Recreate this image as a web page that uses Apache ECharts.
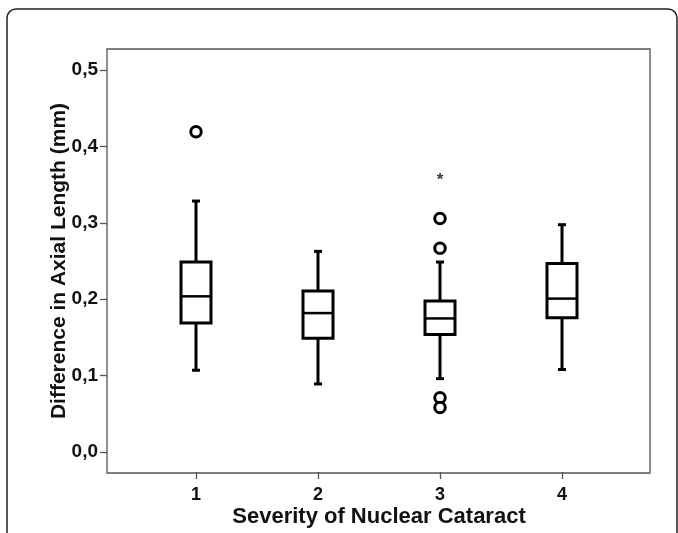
<!DOCTYPE html>
<html>
<head>
<meta charset="utf-8">
<script src="https://cdn.jsdelivr.net/npm/echarts@6/dist/echarts.min.js"></script>
<style>
  html, body { margin: 0; padding: 0; background: #fff; }
  #main { width: 678px; height: 533px; }
</style>
</head>
<body>
<div id="main"></div>
<script>
// 分组（白内障严重程度）
var categories = ['1', '2', '3', '4'];
// 箱线图各统计量，按分组顺序
var whiskerLow  = [0.106, 0.088, 0.095, 0.107];
var quartile1   = [0.168, 0.148, 0.153, 0.175];
var medians     = [0.203, 0.181, 0.174, 0.200];
var quartile3   = [0.248, 0.210, 0.197, 0.246];
var whiskerHigh = [0.328, 0.262, 0.248, 0.297];
// 离群值 [分组序号, 数值]
var outliers = [[0, 0.419], [2, 0.305], [2, 0.266], [2, 0.070], [2, 0.057]];
// 极端值（星号）
var extremes = [[2, 0.360]];
// 纵轴刻度
var yTickValues = [0, 0.1, 0.2, 0.3, 0.4, 0.5];
var yTickLabels = ['0,0', '0,1', '0,2', '0,3', '0,4', '0,5'];
// 纵轴范围（外框上下留白）
var yMin = -0.0275, yMax = 0.5275;

var FONT = '"Liberation Sans", Arial, sans-serif';
var INK = '#111';
var FRAME = '#555';

var boxData = [];
for (var i = 0; i < categories.length; i++) {
    boxData.push([i, whiskerLow[i], quartile1[i], medians[i], quartile3[i], whiskerHigh[i]]);
}

//画箱体：须线、端帽、箱子、中位线
function renderBox(params, api) {
    var x = api.value(0);
    var lo = api.coord([x, api.value(1)]);
    var q1 = api.coord([x, api.value(2)]);
    var md = api.coord([x, api.value(3)]);
    var q3 = api.coord([x, api.value(4)]);
    var hi = api.coord([x, api.value(5)]);
    var cx = lo[0], hw = 15, cw = 4;
    var thick = { stroke: '#000', lineWidth: 3 };
    return {
        type: 'group',
        children: [
            { type: 'line', shape: { x1: cx, y1: hi[1], x2: cx, y2: q3[1] }, style: thick },
            { type: 'line', shape: { x1: cx, y1: q1[1], x2: cx, y2: lo[1] }, style: thick },
            { type: 'line', shape: { x1: cx - cw, y1: hi[1], x2: cx + cw, y2: hi[1] }, style: thick },
            { type: 'line', shape: { x1: cx - cw, y1: lo[1], x2: cx + cw, y2: lo[1] }, style: thick },
            { type: 'rect', shape: { x: cx - hw, y: q3[1], width: hw * 2, height: q1[1] - q3[1] },
              style: { fill: '#fff', stroke: '#000', lineWidth: 3 } },
            { type: 'line', shape: { x1: cx - hw, y1: md[1], x2: cx + hw, y2: md[1] },
              style: { stroke: '#000', lineWidth: 2.5 } }
        ]
    };
}

var myChart = echarts.init(document.getElementById('main'));

var option = {
    animation: false,
    backgroundColor: '#fff',
    textStyle: { fontFamily: FONT },
    graphic: [{
        type: 'rect',
        shape: { x: 7, y: 9, width: 670, height: 600, r: 9 },
        style: { fill: 'none', stroke: '#222', lineWidth: 1.5 },
        silent: true
    }],
    grid: [
        //外框，带纵轴
        { left: 107, right: 28, top: 49, bottom: 60, show: true,
          borderColor: FRAME, borderWidth: 1.3, backgroundColor: 'transparent' },
        //数据区，带横轴
        { left: 135, right: 55, top: 49, bottom: 60 }
    ],
    xAxis: [
        { gridIndex: 0, type: 'value', show: false, min: 0, max: 1 },
        {
            gridIndex: 1,
            type: 'category',
            data: categories,
            axisLine: { show: false, onZero: false },
            axisTick: { show: true, alignWithLabel: true, length: 7,
                        lineStyle: { color: FRAME, width: 1.3 } },
            axisLabel: { color: INK, fontSize: 18, fontWeight: 'bold', margin: 14, fontFamily: FONT },
            name: 'Severity of Nuclear Cataract',
            nameLocation: 'middle',
            nameGap: 34,
            nameMoveOverlap: false,
            nameTextStyle: { color: INK, fontSize: 22, fontWeight: 'bold', fontFamily: FONT }
        }
    ],
    yAxis: [
        {
            gridIndex: 0,
            type: 'value',
            min: yMin,
            max: yMax,
            splitLine: { show: false },
            axisLine: { show: false, onZero: false },
            axisTick: { show: true, length: 7, customValues: yTickValues,
                        lineStyle: { color: FRAME, width: 1.3 } },
            axisLabel: {
                customValues: yTickValues,
                color: INK, fontSize: 19, fontWeight: 'bold', margin: 9, fontFamily: FONT,
                formatter: function (v) { return yTickLabels[Math.round(v * 10)]; }
            },
            name: 'Difference in Axial Length (mm)',
            nameLocation: 'middle',
            nameGap: 37,
            nameMoveOverlap: false,
            nameTextStyle: { color: INK, fontSize: 21, fontWeight: 'bold', fontFamily: FONT }
        },
        { gridIndex: 1, type: 'value', show: false, min: yMin, max: yMax }
    ],
    series: [
        {
            type: 'custom',
            xAxisIndex: 1,
            yAxisIndex: 1,
            renderItem: renderBox,
            encode: { x: 0, y: [1, 2, 3, 4, 5] },
            data: boxData,
            z: 3
        },
        {
            type: 'scatter',
            xAxisIndex: 1,
            yAxisIndex: 1,
            symbol: 'circle',
            symbolSize: 10.5,
            itemStyle: { color: '#fff', borderColor: '#000', borderWidth: 3, opacity: 1 },
            data: outliers,
            z: 4
        },
        {
            type: 'scatter',
            xAxisIndex: 1,
            yAxisIndex: 1,
            symbolSize: 1,
            itemStyle: { color: 'transparent' },
            label: {
                show: true, position: 'inside', formatter: '*', offset: [0, 4],
                color: '#000', fontSize: 17, fontWeight: 'bold', fontFamily: FONT
            },
            data: extremes,
            z: 4
        }
    ]
};

myChart.setOption(option);
</script>
</body>
</html>
